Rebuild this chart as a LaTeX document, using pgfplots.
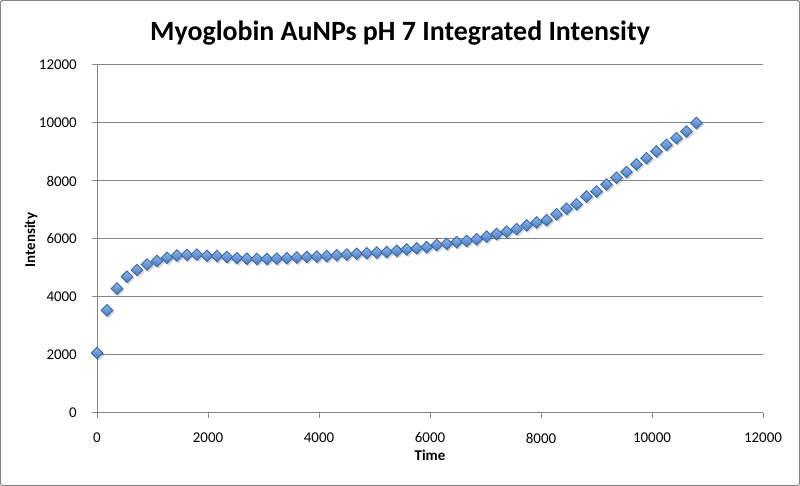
\documentclass[border=0pt]{standalone}
\usepackage{pgfplots}
\pgfplotsset{compat=1.18}
\usepackage{fontspec}
\setmainfont{Carlito}
\definecolor{gridgray}{HTML}{868686}
\definecolor{mtop}{HTML}{8FB4E9}
\definecolor{mbot}{HTML}{467ABF}
\definecolor{medge}{HTML}{3A68A8}
\pgfdeclareplotmark{xdia}{%
  \shade[top color=mtop,bottom color=mbot,draw=medge,line width=0.9bp] (0bp,5.8bp)--(5.8bp,0bp)--(0bp,-5.8bp)--(-5.8bp,0bp)--cycle;}
\pgfdeclareplotmark{xshadow}{%
  \fill[black,opacity=0.15] (1.5bp,4.3bp)--(7.3bp,-1.5bp)--(1.5bp,-7.3bp)--(-4.3bp,-1.5bp)--cycle;}
\pgfplotstableread{
x y
0 2070
180 3540
360 4290
540 4700
720 4930
900 5120
1080 5240
1260 5350
1440 5430
1620 5450
1800 5460
1980 5420
2160 5410
2340 5380
2520 5340
2700 5320
2880 5310
3060 5310
3240 5320
3420 5340
3600 5360
3780 5380
3960 5390
4140 5410
4320 5440
4500 5460
4680 5490
4860 5510
5040 5530
5220 5550
5400 5590
5580 5640
5760 5680
5940 5715
6120 5790
6300 5830
6480 5890
6660 5930
6840 5990
7020 6080
7200 6170
7380 6250
7560 6340
7740 6470
7920 6570
8100 6650
8280 6850
8460 7040
8640 7195
8820 7460
9000 7635
9180 7880
9360 8110
9540 8310
9720 8570
9900 8785
10080 9020
10260 9245
10440 9475
10620 9705
10800 10000
}\datatable
\begin{document}
\begin{tikzpicture}[x=1bp,y=1bp]
\draw[gridgray, line width=1bp, rounded corners=2bp] (0.5,0.5) rectangle (799.5,485.5);
\begin{axis}[at={(97bp,73bp)}, anchor=south west, scale only axis,
  width=666bp, height=348bp,
  xmin=0, xmax=12000, ymin=0, ymax=12000,
  xtick={0,2000,...,12000}, ytick={0,2000,...,12000},
  axis lines*=left, axis line style={gridgray, line width=1bp, -},
  ymajorgrids, grid style={gridgray, line width=1bp},
  tick align=outside, major tick length=5bp,
  tick style={gridgray, line width=1bp},
  ticklabel style={font=\fontsize{15}{18}\selectfont, inner sep=0pt},
  /pgf/number format/assume math mode=true,
  scaled ticks=false, /pgf/number format/1000 sep={},
  xticklabel style={anchor=center, yshift=-20bp},
  yticklabel style={anchor=east, xshift=-15bp},
  clip=false,
]
\addplot[only marks, mark=xshadow] table[x=x,y=y] {\datatable};
\addplot[only marks, mark=xdia] table[x=x,y=y] {\datatable};
\end{axis}
\node[font=\fontsize{28}{33}\selectfont\bfseries] at (400,453) {Myoglobin AuNPs pH 7 Integrated Intensity};
\node[font=\fontsize{15}{18}\selectfont\bfseries] at (430,31) {Time};
\node[font=\fontsize{15}{18}\selectfont\bfseries, rotate=90] at (31,246) {Intensity};
\end{tikzpicture}
\end{document}
